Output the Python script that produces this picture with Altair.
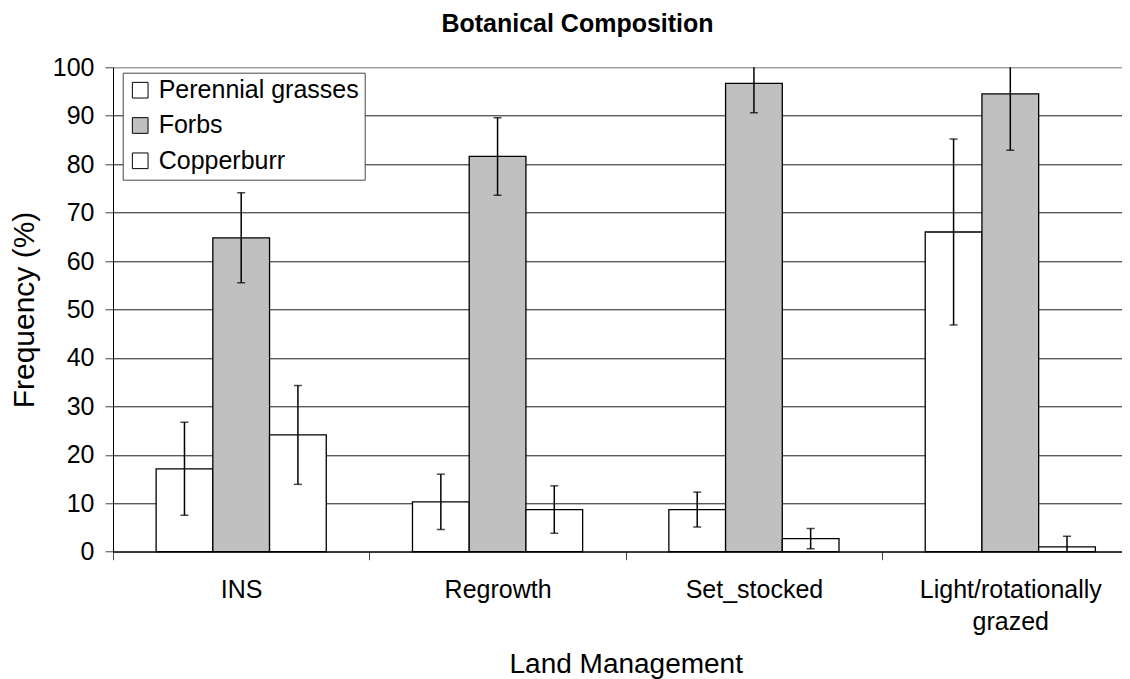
import altair as alt
import pandas as pd

categories = ["INS", "Regrowth", "Set_stocked", "Light/rotationally grazed"]
series = ["Perennial grasses", "Forbs", "Copperburr"]
perennial = [17.1, 10.3, 8.7, 66.0]
perennial_err = [9.6, 5.7, 3.6, 19.2]
forbs = [64.8, 81.6, 96.7, 94.5]
forbs_err = [9.3, 8.0, 6.1, 11.6]
copperburr = [24.1, 8.7, 2.7, 1.0]
copperburr_err = [10.2, 4.9, 2.1, 2.2]
y_ticks = [0, 10, 20, 30, 40, 50, 60, 70, 80, 90, 100]

rows = []
for s, vals, errs in zip(series, [perennial, forbs, copperburr],
                         [perennial_err, forbs_err, copperburr_err]):
    for c, v, e in zip(categories, vals, errs):
        rows.append({"Land": c, "Series": s, "Value": v,
                     "Low": v - e, "High": v + e})
df = pd.DataFrame(rows)

FONT = "Liberation Sans"

x_enc = alt.X("Land:N", sort=categories,
              scale=alt.Scale(domain=categories, paddingInner=0, paddingOuter=0,
                              range=[0, 1025.5]),
              axis=alt.Axis(title="Land Management", labelAngle=0, labelFontSize=25,
                            labelFont=FONT, labelColor="black", labelPadding=18,
                            labelLineHeight=31.7, labelLimit=400,
                            labelExpr="datum.label == 'Light/rotationally grazed' ? ['Light/rotationally', 'grazed'] : datum.label",
                            tickBand="extent", tickSize=8, tickColor="#444",
                            domainColor="black", grid=False,
                            titleFont=FONT, titleFontSize=28, titleFontWeight="normal",
                            titleColor="black", titleBaseline="alphabetic", titleY=121.3,
                            titleX=512.75, titleLimit=600))
xo_enc = alt.XOffset("Series:N", sort=series,
                     scale=alt.Scale(domain=series, paddingOuter=0.76, paddingInner=0))

y_axis = alt.Axis(title="Frequency (%)", values=y_ticks, labelFontSize=25, labelFont=FONT,
                  labelColor="black", labelPadding=11, tickSize=8, tickColor="#444",
                  domainColor="black",
                  grid=True,
                  gridColor={"condition": {"test": "datum.value >= 100", "value": "#808080"},
                             "value": "#1a1a1a"},
                  titleFont=FONT, titleFontSize=30, titleFontWeight="normal",
                  titleColor="black", titleBaseline="alphabetic",
                  titleX=-79.7, titleY=242.2, titleAngle=270, titleLimit=600)

y_scale = alt.Scale(domain=[0, 100], nice=False)

color_scale = alt.Scale(domain=series, range=["#FFFFFF", "#C0C0C0", "#FFFFFF"])

bars = alt.Chart(df).mark_bar(stroke="black", strokeWidth=1.3).encode(
    x=x_enc,
    xOffset=xo_enc,
    y=alt.Y("Value:Q", scale=y_scale, axis=y_axis),
    fill=alt.Fill("Series:N", sort=series, scale=color_scale,
                  legend=alt.Legend(title=None, orient="none", legendX=9.7, legendY=5.4,
                                    symbolType="square", symbolSize=246,
                                    symbolStrokeColor="black", symbolStrokeWidth=1,
                                    labelFontSize=25, labelFont=FONT, labelColor="black",
                                    labelOffset=6, labelLimit=400, rowPadding=9.3, padding=5,
                                    strokeColor="#444", fillColor="white")),
)

err = alt.Chart(df).mark_rule(color="black", strokeWidth=1.5, clip=True).encode(
    x=alt.X("Land:N", sort=categories),
    xOffset=alt.XOffset("Series:N", sort=series),
    y=alt.Y("Low:Q"),
    y2="High:Q",
)

cap_hi = alt.Chart(df).mark_tick(color="black", thickness=1.5, size=8,
                                 orient="horizontal", clip=True).encode(
    x=alt.X("Land:N", sort=categories),
    xOffset=alt.XOffset("Series:N", sort=series),
    y=alt.Y("High:Q"),
)
cap_lo = alt.Chart(df).mark_tick(color="black", thickness=1.5, size=8,
                                 orient="horizontal", clip=True).encode(
    x=alt.X("Land:N", sort=categories),
    xOffset=alt.XOffset("Series:N", sort=series),
    y=alt.Y("Low:Q"),
)

chart = alt.layer(bars, err, cap_hi, cap_lo).properties(
    width=1009,
    height=484.4,
    autosize=alt.AutoSizeParams(type="none"),
    padding={"left": 105, "top": 59.3, "right": 0, "bottom": 127},
    title=alt.TitleParams("Botanical Composition", fontSize=25, fontWeight="bold",
                          font=FONT, color="black", anchor="middle", dx=-40,
                          baseline="alphabetic", offset=-2),
).configure_view(strokeWidth=0).configure(background="white")

chart.save("out.html", embed_options={"renderer": "svg", "actions": False})
